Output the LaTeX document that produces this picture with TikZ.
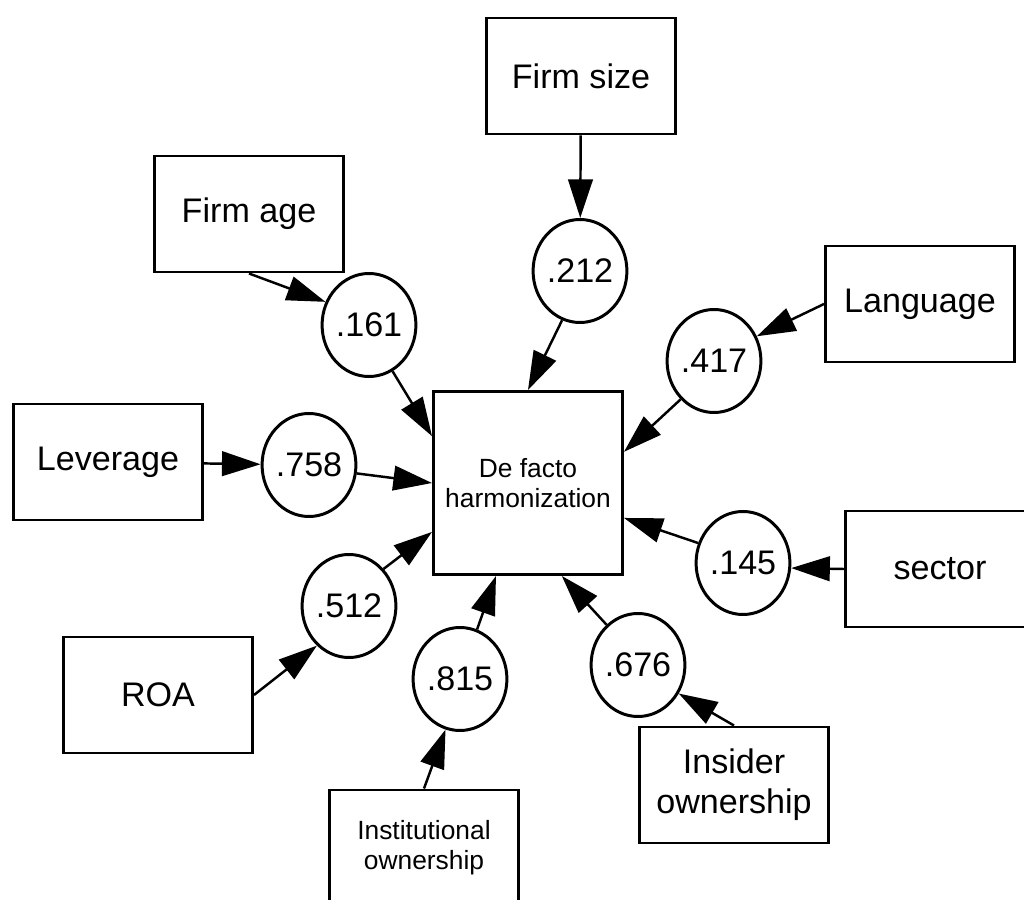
\documentclass[tikz,border=0pt]{standalone}
\usepackage{fontspec}
\setmainfont{Liberation Sans}
\usetikzlibrary{shapes.geometric,arrows.meta}

\begin{document}
\begin{tikzpicture}[x=1cm,y=1cm,
  var/.style={draw,line width=0.85pt,minimum width=1.89cm,minimum height=1.16cm,align=center,font=\fontsize{9.7}{11.4}\selectfont},
  small/.style={font=\fontsize{7.5}{8.5}\selectfont},
  coef/.style={draw,ellipse,line width=0.85pt,minimum width=0.9cm,minimum height=1.03cm,inner sep=0pt,font=\fontsize{9.7}{11.4}\selectfont},
  link/.style={line width=0.7pt,-{Triangle[length=11pt,width=7pt]}}]
\clip (0,0) rectangle (10.24,9.00);
\node[var,small,minimum height=1.83cm] (harm) at (5.28,4.17) {De facto\\harmonization};
\node[var] (fsize) at (5.81,8.24) {Firm size};
\node[var] (fage) at (2.49,6.86) {Firm age};
\node[var] (lang) at (9.20,5.96) {Language};
\node[var] (lev) at (1.08,4.38) {Leverage};
\node[var] (sector) at (9.40,3.31) {sector};
\node[var] (roa) at (1.58,2.05) {ROA};
\node[var] (insider) at (7.34,1.15) {Insider\\ownership};
\node[var,small] (inst) at (4.24,0.52) {Institutional\\ownership};
\foreach \n/\x/\y/\v in {e212/5.80/6.29/.212,e161/3.69/5.75/.161,e417/7.14/5.39/.417,e758/3.09/4.35/.758,
  e145/7.43/3.37/.145,e512/3.49/2.94/.512,e815/4.60/2.21/.815,e676/6.38/2.35/.676}{\node[coef] (\n) at (\x,\y) {\v};}
% loadings
\foreach \a/\b in {fsize/e212,e212.250/harm.north,fage.south/e161.152,e161.297/harm.154,
  lang.west/e417.30,e417.229/harm.18,lev/e758,e758.350/harm.west,sector.west/e145.-6,e145.156/harm.340,
  roa.east/e512.231,e512.47/harm.207,inst.north/e815.254,e815.71/harm.251,insider.north/e676.325,e676.128/harm.290}
  {\draw[link] (\a) -- (\b);}
\end{tikzpicture}
\end{document}
